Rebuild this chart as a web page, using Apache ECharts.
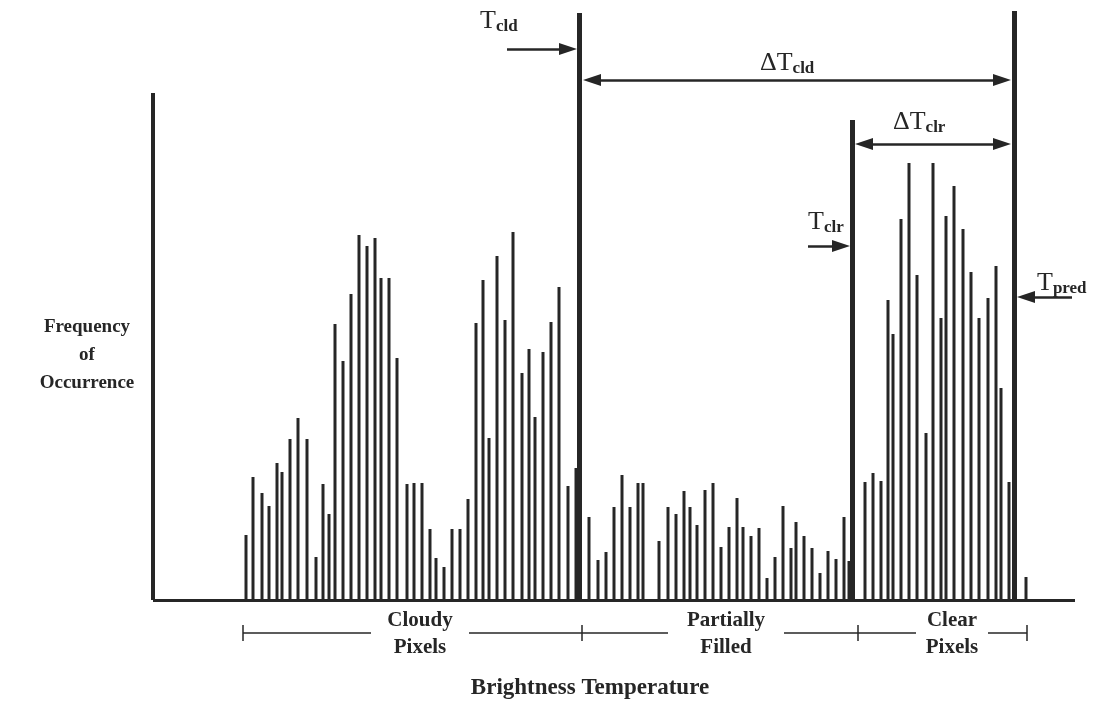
<!DOCTYPE html>
<html>
<head>
<meta charset="utf-8">
<script src="https://cdn.jsdelivr.net/npm/echarts@6/dist/echarts.min.js"></script>
<style>
  html, body { margin: 0; background: #fff; }
  #chart { width: 1117px; height: 702px; }
</style>
</head>
<body>
<div id="chart"></div>
<script>
// histogram bins along the brightness temperature axis (0 = left end of axis)
const binPos = [91, 98, 107, 114, 122, 127, 135, 143, 152, 161, 168, 174, 180, 188, 196, 204, 212, 220, 226, 234, 242, 252,
  259, 267, 275, 281, 289, 297, 305, 313, 321, 328, 334, 342, 350, 358, 367, 374, 380, 388, 396, 404, 413, 421,
  434, 443, 451, 459, 467, 475, 483, 488, 504, 513, 521, 529, 535, 542, 550, 558, 566,
  574, 582, 588, 596, 604, 612, 620, 628, 636, 641, 649, 657, 665, 673, 681, 689, 694,
  710, 718, 726, 733, 738, 746, 754, 762, 771, 778, 786, 791, 799, 808, 816, 824, 833, 841, 846, 854, 871]
const counts = [65, 123, 107, 94, 137, 128, 161, 182, 161, 43, 116, 86, 276, 239, 306, 365, 354, 362, 322, 322, 242, 116,
  117, 117, 71, 42, 33, 71, 71, 101, 277, 320, 162, 344, 280, 368, 227, 251, 183, 248, 278, 313, 114, 132,
  83, 40, 48, 93, 125, 93, 117, 117, 59, 93, 86, 109, 93, 75, 110, 117, 53,
  73, 102, 73, 64, 72, 22, 43, 94, 52, 78, 64, 52, 27, 49, 41, 83, 39,
  118, 127, 119, 300, 266, 381, 437, 325, 167, 437, 282, 384, 414, 371, 328, 282, 302, 334, 212, 118, 23]

// T_cld, T_clr and T_pred threshold lines
const thresholdPos = [424.5, 697.5, 859]
const thresholdTop = [587, 480, 589]

// ranges marked under the axis
const rangeTicks = [88, 427, 703, 872]
const rangeNames = [['Cloudy', 'Pixels'], ['Partially', 'Filled'], ['Clear', 'Pixels']]
const rangeCenters = [265, 571, 797]
const rangeGaps = [49, 58, 36]

const ink = '#262626'
const axisMax = 920
const yTop = 507

function seg (a, b, width, startSym, endSym) {
  return [
    { coord: a, symbol: startSym || 'none', symbolSize: [12, 18], lineStyle: { width: width, color: ink, type: 'solid' } },
    { coord: b, symbol: endSym || 'none', symbolSize: [12, 18] }
  ]
}

const lines = []
// axes
lines.push(seg([-2, 0], [-2, yTop], 4))
lines.push(seg([-2, 0], [axisMax, 0], 3))
// threshold lines
thresholdPos.forEach((x, i) => lines.push(seg([x, 0], [x, thresholdTop[i]], 5)))
// arrows
lines.push(seg([352, 551], [413, 551], 2.5, 'none', 'triangle'))
lines.push(seg([437, 520], [847, 520], 2.5, 'triangle', 'triangle'))
lines.push(seg([709, 456], [847, 456], 2.5, 'triangle', 'triangle'))
lines.push(seg([653, 354], [686, 354], 2.5, 'none', 'triangle'))
lines.push(seg([917, 303], [871, 303], 2.5, 'none', 'triangle'))
// bracket under the axis
const bracketY = -33
rangeTicks.forEach(x => lines.push(seg([x, bracketY + 8], [x, bracketY - 8], 1.5)))
rangeCenters.forEach((c, i) => {
  lines.push(seg([rangeTicks[i], bracketY], [c - rangeGaps[i], bracketY], 1.5))
  lines.push(seg([c + rangeGaps[i], bracketY], [rangeTicks[i + 1], bracketY], 1.5))
})

const serif = '"Liberation Serif", "Times New Roman", serif'
const ctx = document.createElement('canvas').getContext('2d')
function textWidth (s, size, weight) {
  ctx.font = weight + ' ' + size + 'px ' + serif
  return ctx.measureText(s).width
}

function subLabel (x, y, main, sub) {
  const w = textWidth(main, 26, 'normal')
  return [
    { type: 'text', x: x, y: y, style: { text: main, fontSize: 26, fontFamily: serif, fill: ink, align: 'left', verticalAlign: 'middle' } },
    { type: 'text', x: x + w, y: y + 6, style: { text: sub, fontSize: 17, fontWeight: 'bold', fontFamily: serif, fill: ink, align: 'left', verticalAlign: 'middle' } }
  ]
}

const graphics = [].concat(
  subLabel(480, 21, 'T', 'cld'),
  subLabel(760, 63, '\u0394T', 'cld'),
  subLabel(893, 122, '\u0394T', 'clr'),
  subLabel(808, 222, 'T', 'clr'),
  subLabel(1037, 283, 'T', 'pred'),
  [{
    type: 'text', x: 87, y: 355,
    style: { text: 'Frequency\nof\nOccurrence', fontSize: 19, fontWeight: 'bold', lineHeight: 28, fontFamily: serif, fill: ink, align: 'center', verticalAlign: 'middle' }
  }, {
    type: 'text', x: 590, y: 688,
    style: { text: 'Brightness Temperature', fontSize: 23, fontWeight: 'bold', fontFamily: serif, fill: ink, align: 'center', verticalAlign: 'middle' }
  }]
)
rangeNames.forEach((n, i) => {
  graphics.push({
    type: 'text', x: 155 + rangeCenters[i], y: 634,
    style: { text: n.join('\n'), fontSize: 21, fontWeight: 'bold', lineHeight: 27, fontFamily: serif, fill: ink, align: 'center', verticalAlign: 'middle' }
  })
})

const chart = echarts.init(document.getElementById('chart'))
chart.setOption({
  animation: false,
  backgroundColor: '#fff',
  grid: { left: 153, right: 42, top: 0, bottom: 0 },
  xAxis: { type: 'value', min: -2, max: axisMax, show: false },
  yAxis: { type: 'value', min: -102, max: 600, show: false },
  series: [{
    type: 'bar',
    data: binPos.map((x, i) => [x, counts[i]]),
    barWidth: 3,
    itemStyle: { color: ink },
    silent: true,
    clip: false,
    markLine: {
      silent: true,
      label: { show: false },
      emphasis: { disabled: true },
      data: lines
    }
  }],
  graphic: graphics
})
</script>
</body>
</html>
